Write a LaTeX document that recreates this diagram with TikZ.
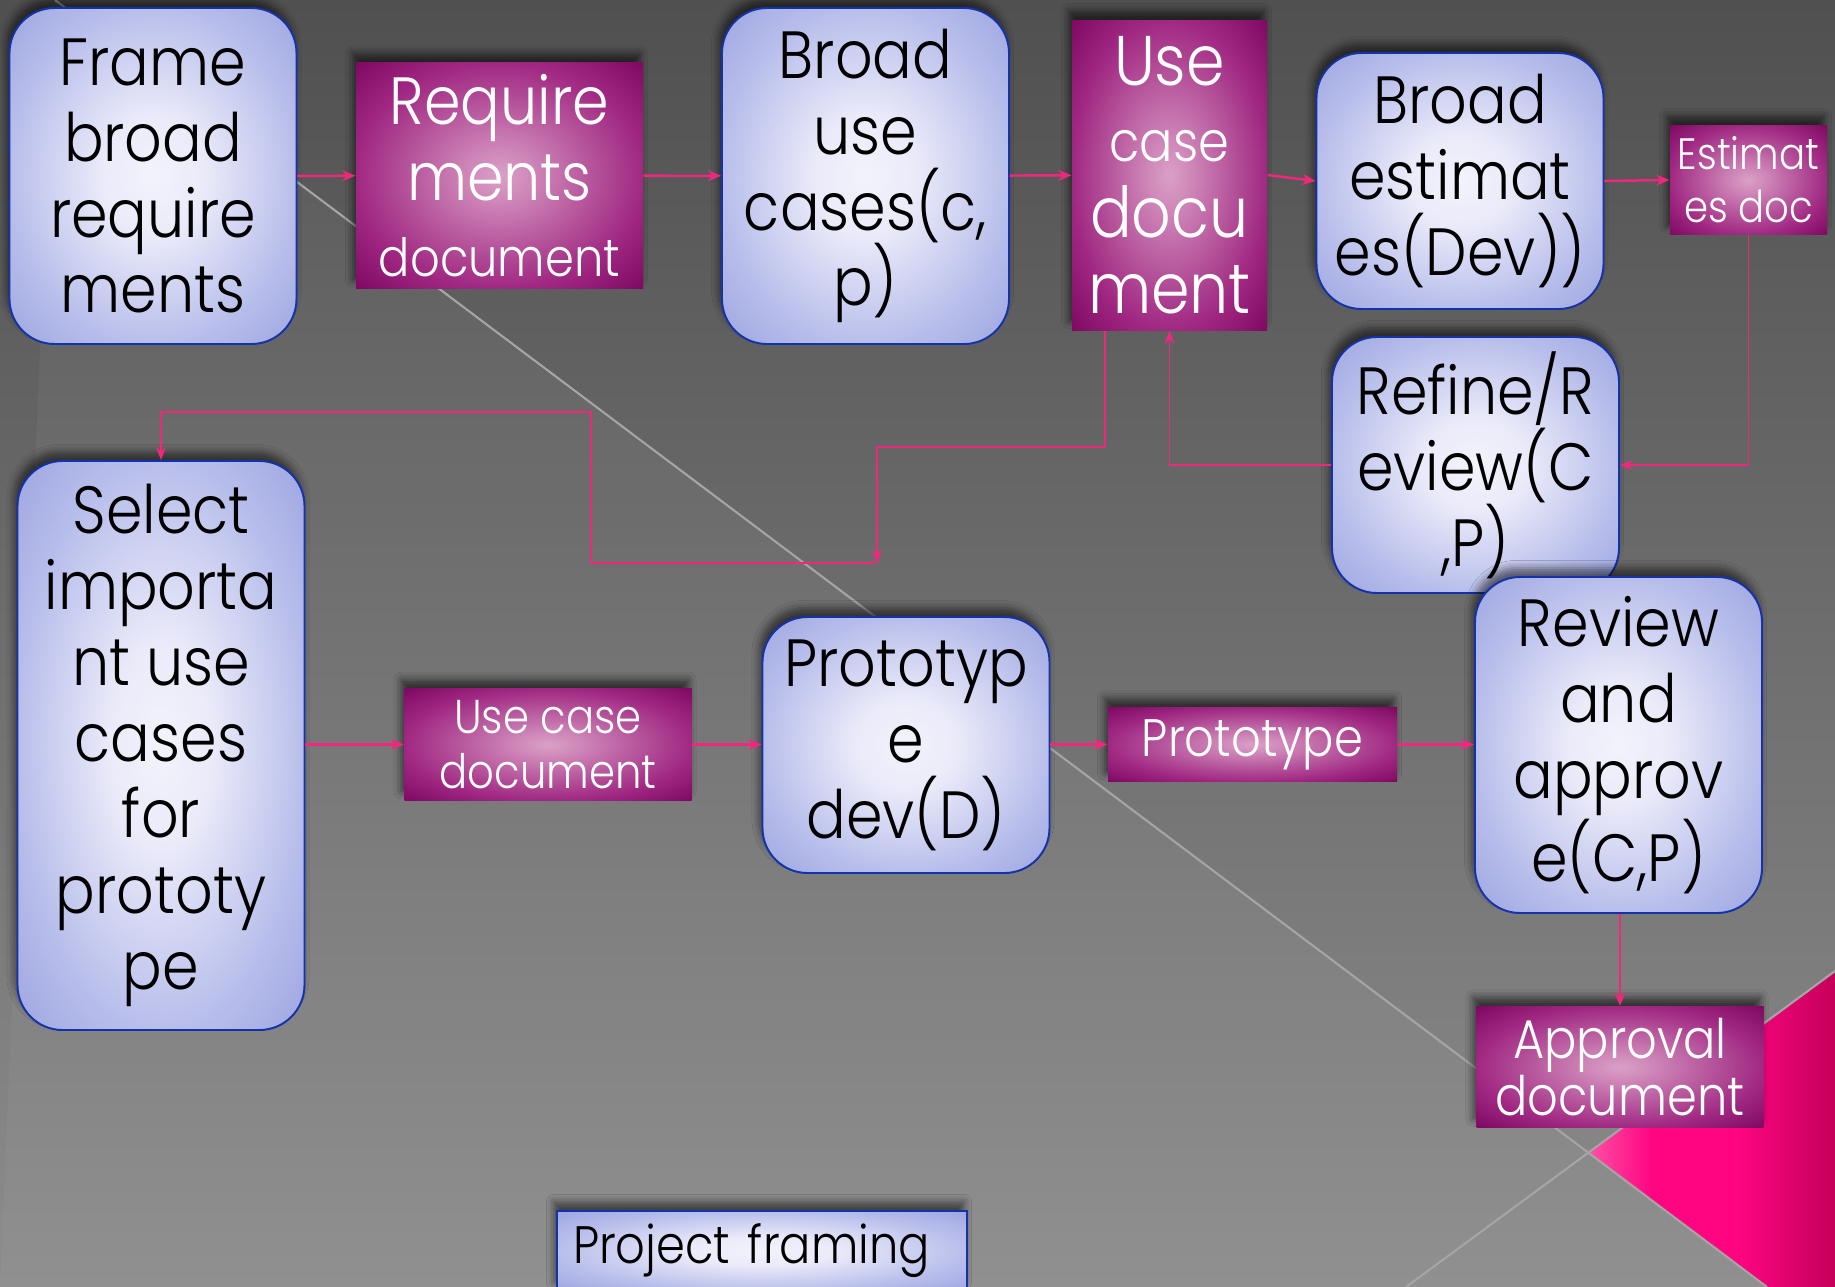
\documentclass[tikz,border=0pt]{standalone}
\usepackage{fontspec}
\setmainfont{Poppins}[FakeStretch=0.88, UprightFont=* Light]
\usetikzlibrary{arrows.meta,shadows.blur}

\definecolor{slidetop}{RGB}{80,80,80}
\definecolor{slidebottom}{RGB}{140,140,140}
\definecolor{slideline}{RGB}{165,165,165}
\definecolor{wedgelight}{RGB}{255,80,165}
\definecolor{wedgemid}{RGB}{255,5,130}
\definecolor{wedgedark}{RGB}{196,0,90}
\definecolor{flowpink}{RGB}{240,40,125}
\definecolor{stepedge}{RGB}{20,50,170}
\definecolor{stepcore}{RGB}{243,243,252}
\definecolor{stepin}{RGB}{234,234,249}
\definecolor{stepmid}{RGB}{184,190,235}
\definecolor{stepout}{RGB}{156,164,224}
\definecolor{doccore}{RGB}{218,160,199}
\definecolor{docin}{RGB}{208,138,186}
\definecolor{docmid}{RGB}{160,40,130}
\definecolor{docout}{RGB}{124,6,96}

\pgfdeclareradialshading{stepglow}{\pgfpointorigin}{color(0bp)=(stepcore); color(9bp)=(stepin);
    color(25bp)=(stepmid); color(36bp)=(stepout); color(50bp)=(stepout)}
\pgfdeclareradialshading{docglow}{\pgfpointorigin}{color(0bp)=(doccore); color(5bp)=(docin);
    color(25bp)=(docmid); color(36bp)=(docout); color(50bp)=(docout)}
\pgfdeclarehorizontalshading{wedgeglow}{100bp}{color(0bp)=(wedgelight); color(25bp)=(wedgelight);
    color(38bp)=(wedgemid); color(55bp)=(wedgemid); color(75bp)=(wedgedark); color(100bp)=(wedgedark)}

\begin{document}
\begin{tikzpicture}[
                task/.style={draw=stepedge, line width=0.55pt, rounded corners=4.5mm, shade, shading=stepglow,
                    text=black, align=center, inner xsep=0pt, minimum width=2.87cm, font=\fontsize{19}{21.6}\selectfont,
                    blur shadow={shadow xshift=-0.3mm, shadow yshift=0.9mm, shadow opacity=55}},
                doc/.style={shade, shading=docglow, text=white, align=center, inner xsep=0pt,
                    minimum width=2.87cm, blur shadow={shadow xshift=-0.3mm, shadow yshift=0.9mm, shadow opacity=60}},
                flow/.style={draw=flowpink, line width=0.7pt, -{Stealth[length=1.3mm,width=1.1mm]}},
                loop/.style={draw=flowpink, line width=0.5pt, -{Stealth[length=1.3mm,width=1mm]}}
            ]
                \useasboundingbox (0,0) rectangle (18.35,-12.87);
                \shade[top color=slidetop, bottom color=slidebottom] (0,0) rectangle (18.35,-12.87);
                \fill[white, opacity=0.04] (0.55,0) -- (17.67,-12.87) -- (0,-12.87) -- cycle;
                \shade[shading=wedgeglow] (15.88,-11.53) -- (18.35,-9.71) -- (18.35,-12.87) -- (17.67,-12.87) -- cycle;
                \draw[slideline, line width=0.6pt] (0.55,0) -- (17.67,-12.87);
                \draw[slideline, line width=0.6pt] (14.06,-12.87) -- (18.35,-9.71);

                \node[task, minimum height=3.36cm] (frame) at (1.53,-1.76) {Frame\\broad\\require\\ments};
                \node[doc, minimum height=2.17cm, font=\fontsize{19}{21.6}\selectfont] (reqdoc) at (4.995,-1.755)
                    {Require\\ments\\{\fontsize{15}{18}\selectfont document}};
                \node[task, minimum height=3.36cm] (usecases) at (8.655,-1.76) {Broad\\use\\cases(c,\\p)};
                \node[doc, minimum width=1.95cm, minimum height=3.1cm, font=\fontsize{20}{21.6}\selectfont] (ucdoc) at (11.695,-1.75)
                    {Use\\{\fontsize{16}{21.6}\selectfont case}\\docu\\ment};
                \node[task, minimum height=2.56cm] (estimates) at (14.6,-1.81) {Broad\\estimat\\es(Dev))};
                \node[doc, minimum width=1.57cm, minimum height=1.04cm, font=\fontsize{12.5}{15}\selectfont] (estdoc) at (17.485,-1.8)
                    {Estimat\\es doc};
                \node[task, minimum height=2.56cm] (refine) at (14.755,-4.65) {Refine/R\\eview(C\\,P)};

                \node[task, minimum height=5.69cm] (select) at (1.61,-7.455) {Select\\importa\\nt use\\cases\\for\\prototy\\pe};
                \node[doc, minimum height=1.05cm, font=\fontsize{13.5}{15.5}\selectfont] (ucdoc2) at (5.48,-7.445) {Use case\\document};
                \node[task, minimum height=2.56cm] (protodev) at (9.06,-7.45) {Prototyp\\e\\dev(D)};
                \node[doc, minimum width=2.89cm, minimum height=0.59cm, font=\fontsize{15}{18}\selectfont] (proto) at (12.525,-7.445) {Prototype};
                \node[task, minimum height=3.36cm] (review) at (16.185,-7.45) {Review\\and\\approv\\e(C,P)};
                \node[doc, minimum height=1.18cm, font=\fontsize{15.5}{16.2}\selectfont] (approval) at (16.2,-10.67) {Approval\\document};

                \node[task, rounded corners=0pt, minimum width=4.1cm, minimum height=0.8cm, font=\fontsize{15}{18}\selectfont,
                    inner xsep=1.6mm, text width=3.78cm, align=left] (framing) at (7.62,-12.51) {Project framing};

                \coordinate (ucdrop) at ([xshift=-6.45mm]ucdoc.south);
                \coordinate (ucturn) at (8.77,-5.63);
                \coordinate (bendtop) at (5.91,-4.12);

                \draw[flow] (frame) to (reqdoc);
                \draw[flow] (reqdoc) to (usecases);
                \draw[flow] (usecases) to (ucdoc);
                \draw[flow] (ucdoc.east) to (estimates.west);
                \draw[flow] (estimates.east) to (estdoc.west);
                \draw[loop] (estdoc.south) |- (refine.east);
                \draw[loop] (refine.west) -| (ucdoc.south);
                \draw[loop] (ucdrop) -- ++(0,-1.16) -| (ucturn);
                \draw[loop] (ucturn) -| (bendtop) -| (select.north);
                \draw[flow] (select.east |- ucdoc2.west) to (ucdoc2.west);
                \draw[flow] (ucdoc2.east) to (protodev.west |- ucdoc2.east);
                \draw[flow] (protodev.east |- proto.west) to (proto.west);
                \draw[flow] (proto.east) to (review.west |- proto.east);
                \draw[flow] (review.south -| approval.north) to (approval.north);
            \end{tikzpicture}
\end{document}
